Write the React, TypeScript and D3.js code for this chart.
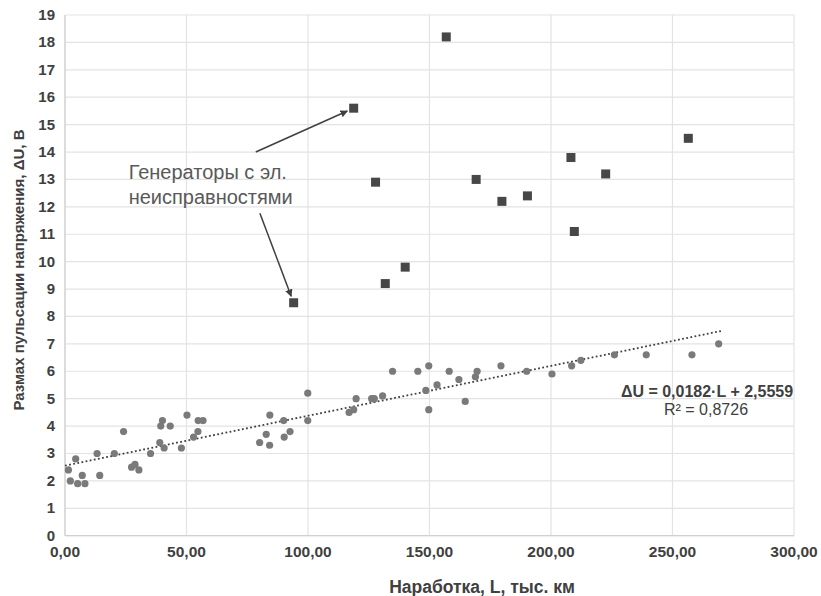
import React from "react";
import * as d3 from "d3";

// исправные генераторы: наработка L (тыс. км), размах пульсации ΔU (В)
const goodL = [
  1.4, 2.2, 4.4, 5.2, 7.1, 8.2, 13.2, 14.3, 20.3, 24.1, 27.4, 28.8, 30.4, 35.2,
  39.0, 39.4, 40.1, 40.8, 43.3, 47.9, 50.2, 52.9, 54.7, 54.8, 56.8, 80.1, 82.8,
  84.2, 84.3, 90.0, 90.2, 92.6, 99.9, 99.9, 116.9, 118.8, 119.8, 126.2, 127.3,
  130.7, 134.8, 145.2, 148.5, 149.7, 149.7, 153.1, 158.1, 162.1, 164.7, 168.9,
  169.6, 179.4, 190.0, 200.4, 208.5, 212.3, 226.1, 239.2, 258.0, 269.0,
];
const goodU = [
  2.4, 2.0, 2.8, 1.9, 2.2, 1.9, 3.0, 2.2, 3.0, 3.8, 2.5, 2.6, 2.4, 3.0,
  3.4, 4.0, 4.2, 3.2, 4.0, 3.2, 4.4, 3.6, 3.8, 4.2, 4.2, 3.4, 3.7,
  3.3, 4.4, 4.2, 3.6, 3.8, 5.2, 4.2, 4.5, 4.6, 5.0, 5.0, 5.0,
  5.1, 6.0, 6.0, 5.3, 6.2, 4.6, 5.5, 6.0, 5.7, 4.9, 5.8,
  6.0, 6.2, 6.0, 5.9, 6.2, 6.4, 6.6, 6.6, 6.6, 7.0,
];

// генераторы с электрическими неисправностями
const faultL = [94.1, 118.8, 127.8, 131.8, 140.0, 156.9, 169.2, 179.8, 190.3, 208.2, 209.6, 222.5, 256.5];
const faultU = [8.5, 15.6, 12.9, 9.2, 9.8, 18.2, 13.0, 12.2, 12.4, 13.8, 11.1, 13.2, 14.5];

const xTicks = [0, 50, 100, 150, 200, 250, 300];
const yTicks = d3.range(0, 20);

const trendK = 0.0182;
const trendB = 2.5559;
const trendRange = [0, 270];

const eqText = "ΔU = 0,0182·L + 2,5559";
const r2Text = "R² = 0,8726";
const noteLines = ["Генераторы с эл.", "неисправностями"];
const xTitle = "Наработка, L, тыс. км";
const yTitle = "Размах пульсации напряжения, ΔU, В";

const W = 821;
const H = 596;
const left = 65;
const right = 794;
const top = 15;
const bottom = 535.7;

const font = "'Liberation Sans', Arial, sans-serif";
const fmt = (v: number) => v.toFixed(2).replace(".", ",");

export default function App() {
  const x = d3.scaleLinear().domain([0, 300]).range([left, right]);
  const y = d3.scaleLinear().domain([0, 19]).range([bottom, top]);

  const trend = d3
    .line<number>()
    .x((d) => x(d))
    .y((d) => y(trendK * d + trendB))(trendRange);

  // стрелки от подписи к точкам (индексы в faultL)
  const arrows = [
    { from: [78.5, 14.0], to: 1 },
    { from: [80.2, 11.77], to: 0 },
  ].map((a) => {
    const x1 = x(a.from[0]);
    const y1 = y(a.from[1]);
    const tx = x(faultL[a.to]);
    const ty = y(faultU[a.to]);
    const len = Math.hypot(tx - x1, ty - y1);
    const gap = 7;
    return { x1, y1, x2: tx - ((tx - x1) / len) * gap, y2: ty - ((ty - y1) / len) * gap };
  });

  return (
    <svg
      width={W}
      height={H}
      style={{ position: "absolute", left: 0, top: 0, background: "#fff" }}
      fontFamily={font}
    >
      <defs>
        <marker id="ah" viewBox="0 0 10 10" refX="9" refY="5" markerWidth="5" markerHeight="5" orient="auto">
          <path d="M0,0L10,5L0,10z" fill="#404040" />
        </marker>
      </defs>

      {yTicks.map((t) => (
        <line key={"gy" + t} x1={left} x2={right} y1={y(t)} y2={y(t)} stroke="#e3e3e3" strokeWidth={1.2} />
      ))}
      {xTicks.map((t) => (
        <line key={"gx" + t} x1={x(t)} x2={x(t)} y1={top} y2={bottom} stroke="#e3e3e3" strokeWidth={1.2} />
      ))}
      <line x1={left} x2={left} y1={top} y2={bottom} stroke="#d0d0d0" strokeWidth={1.2} />
      <line x1={left} x2={right} y1={bottom} y2={bottom} stroke="#d0d0d0" strokeWidth={1.2} />

      {yTicks.map((t) => (
        <text key={"ty" + t} x={left - 10} y={y(t) + 5} textAnchor="end" fontSize={15} fontWeight="bold" fill="#404040">
          {t}
        </text>
      ))}
      {xTicks.map((t) => (
        <text key={"tx" + t} x={x(t)} y={557} textAnchor="middle" fontSize={15.5} fontWeight="bold" fill="#404040">
          {fmt(t)}
        </text>
      ))}

      <text x={482} y={593} textAnchor="middle" fontSize={17.5} fontWeight="bold" fill="#404040">
        {xTitle}
      </text>
      <text
        transform={`translate(24,${270}) rotate(-90)`}
        textAnchor="middle"
        fontSize={15}
        fontWeight="bold"
        fill="#404040"
      >
        {yTitle}
      </text>

      <path d={trend ?? ""} fill="none" stroke="#404040" strokeWidth={1.8} strokeDasharray="1.8 2.4" />

      {goodL.map((l, i) => (
        <circle key={"c" + i} cx={x(l)} cy={y(goodU[i])} r={3.6} fill="#7a7a7a" />
      ))}
      {faultL.map((l, i) => (
        <rect key={"s" + i} x={x(l) - 4.5} y={y(faultU[i]) - 4.5} width={9} height={9} fill="#474747" />
      ))}

      {arrows.map((a, i) => (
        <line key={"a" + i} x1={a.x1} y1={a.y1} x2={a.x2} y2={a.y2} stroke="#404040" strokeWidth={1.5} markerEnd="url(#ah)" />
      ))}
      {noteLines.map((s, i) => (
        <text key={"n" + i} x={x(26.2)} y={179 + i * 25} fontSize={20} fill="#595959">
          {s}
        </text>
      ))}

      <text x={707} y={397} textAnchor="middle" fontSize={16} fontWeight="bold" fill="#404040">
        {eqText}
      </text>
      <text x={706} y={415} textAnchor="middle" fontSize={16} fill="#404040">
        {r2Text}
      </text>
    </svg>
  );
}
